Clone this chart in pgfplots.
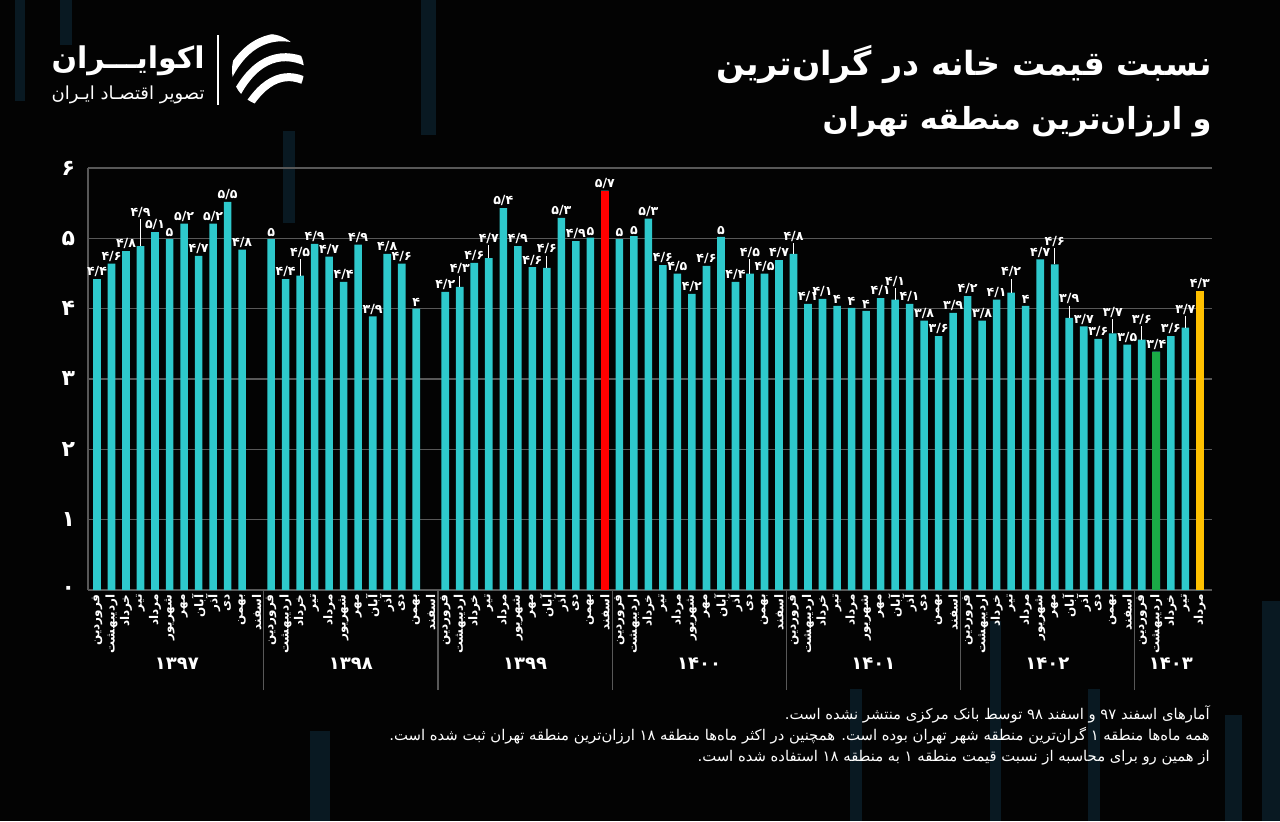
\documentclass[border=0pt]{standalone}
\usepackage{fontspec}
\usepackage{graphicx}
\usepackage{pgfplots}
\usepackage{pgfplotstable}
\pgfplotsset{compat=1.18}
\TeXXeTstate=1
\newfontfamily\fa[Script=Arabic]{DejaVu Sans}
\newfontfamily\fab[Script=Arabic]{DejaVu Sans Bold}
\definecolor{barc}{RGB}{46,201,204}
\definecolor{gridc}{RGB}{88,88,88}
\definecolor{bgc}{RGB}{3,3,3}
\definecolor{stripe}{RGB}{9,25,34}
\definecolor{redb}{RGB}{255,0,0}
\definecolor{greenb}{RGB}{26,170,70}
\definecolor{orangeb}{RGB}{255,192,0}
\newcommand\monthname[1]{\ifcase#1 فروردین\or اردیبهشت\or خرداد\or تیر\or مرداد\or شهریور\or مهر\or آبان\or آذر\or دی\or بهمن\or اسفند\fi}

\pgfplotstableread{
x v off lab
0 4.42 0 ۴/۴
1 4.64 0 ۴/۶
2 4.82 0 ۴/۸
3 4.89 0.38 ۴/۹
4 5.09 0 ۵/۱
5 4.99 0 ۵
6 5.21 0 ۵/۲
7 4.75 0 ۴/۷
8 5.21 0 ۵/۲
9 5.52 0 ۵/۵
10 4.84 0 ۴/۸
12 4.99 0 ۵
13 4.42 0 ۴/۴
14 4.47 0.23 ۴/۵
15 4.92 0 ۴/۹
16 4.74 0 ۴/۷
17 4.38 0 ۴/۴
18 4.91 0 ۴/۹
19 3.89 0 ۳/۹
20 4.78 0 ۴/۸
21 4.64 0 ۴/۶
22 4.00 0 ۴
24 4.24 0 ۴/۲
25 4.31 0.16 ۴/۳
26 4.65 0 ۴/۶
27 4.72 0.18 ۴/۷
28 5.43 0 ۵/۴
29 4.89 0 ۴/۹
30 4.59 0 ۴/۶
31 4.58 0.17 ۴/۶
32 5.29 0 ۵/۳
33 4.96 0 ۴/۹
34 5.01 0 ۵
35 5.68 0 ۵/۷
36 4.99 0 ۵
37 5.03 0 ۵
38 5.28 0 ۵/۳
39 4.62 0 ۴/۶
40 4.50 0 ۴/۵
41 4.21 0 ۴/۲
42 4.61 0 ۴/۶
43 5.02 0 ۵
44 4.38 0 ۴/۴
45 4.50 0.2 ۴/۵
46 4.50 0 ۴/۵
47 4.69 0 ۴/۷
48 4.78 0.15 ۴/۸
49 4.07 0 ۴/۱
50 4.14 0 ۴/۱
51 4.04 0 ۴
52 4.01 0 ۴
53 3.97 0 ۴
54 4.15 0 ۴/۱
55 4.13 0.16 ۴/۱
56 4.07 0 ۴/۱
57 3.83 0 ۳/۸
58 3.61 0 ۳/۶
59 3.94 0 ۳/۹
60 4.18 0 ۴/۲
61 3.83 0 ۳/۸
62 4.13 0 ۴/۱
63 4.23 0.19 ۴/۲
64 4.04 0 ۴
65 4.70 0 ۴/۷
66 4.63 0.23 ۴/۶
67 3.87 0.17 ۳/۹
68 3.75 0 ۳/۷
69 3.57 0 ۳/۶
70 3.65 0.2 ۳/۷
71 3.49 0 ۳/۵
72 3.56 0.19 ۳/۶
73 3.39 0 ۳/۴
74 3.61 0 ۳/۶
75 3.73 0.16 ۳/۷
76 4.25 0 ۴/۳
}\ratios

\begin{document}
\begin{tikzpicture}
\fill[bgc] (0,0) rectangle (640pt,410.5pt);
\path[use as bounding box] (0,0) rectangle (640pt,410.5pt);
% decorative background stripes
\fill[stripe] (7.5pt,360pt) rectangle (12.5pt,410.5pt);
\fill[stripe] (30pt,388pt) rectangle (36pt,410.5pt);
\fill[stripe] (210.5pt,343pt) rectangle (218pt,410.5pt);
\fill[stripe] (141.5pt,299pt) rectangle (147.5pt,345pt);
\fill[stripe] (155pt,0pt) rectangle (165pt,45pt);
\fill[stripe] (425pt,0pt) rectangle (431pt,66pt);
\fill[stripe] (495pt,0pt) rectangle (500.5pt,100pt);
\fill[stripe] (544pt,0pt) rectangle (550pt,66pt);
\fill[stripe] (612.5pt,0pt) rectangle (621pt,53pt);
\fill[stripe] (631pt,0pt) rectangle (640pt,110pt);
% logo
\node[anchor=east, inner sep=0pt, text=white] at (102.5pt,380pt) {\resizebox{76.5pt}{!}{\fab\beginR اکوایـــران\endR}};
\node[anchor=east, inner sep=0pt, text=white] at (102.5pt,363pt) {\resizebox{76.5pt}{!}{\fa\beginR تصویر اقتصـاد ایـران\endR}};
\draw[white, line width=0.6pt] (109pt,358pt) -- (109pt,393pt);
\begin{scope}
\clip (134pt,375.5pt) circle (18pt);
\draw[white, line width=4pt] (114pt,372pt) .. controls (124pt,392pt) and (140pt,396pt) .. (156pt,388pt);
\draw[white, line width=4pt] (118pt,363pt) .. controls (128pt,382pt) and (142pt,386pt) .. (156pt,378pt);
\draw[white, line width=4pt] (122pt,354pt) .. controls (132pt,372pt) and (144pt,376pt) .. (156pt,368pt);
\end{scope}
% title
\node[anchor=east, inner sep=0pt, text=white] at (606pt,378.5pt) {\resizebox{247.5pt}{!}{\fab\beginR نسبت قیمت خانه در گران‌ترین\endR}};
\node[anchor=east, inner sep=0pt, text=white] at (606pt,349.5pt) {\resizebox{194.5pt}{!}{\fab\beginR و ارزان‌ترین منطقه تهران\endR}};
% footnotes
\node[anchor=east, inner sep=0pt, text=white, font=\fa\fontsize{7.4}{8}\selectfont] at (605pt,53.5pt) {\beginR آمارهای اسفند ۹۷ و اسفند ۹۸ توسط بانک مرکزی منتشر نشده است.\endR};
\node[anchor=east, inner sep=0pt, text=white, font=\fa\fontsize{7.4}{8}\selectfont] at (605pt,42.5pt) {\beginR همه ماه‌ها منطقه ۱ گران‌ترین منطقه شهر تهران بوده است. همچنین در اکثر ماه‌ها منطقه ۱۸ ارزان‌ترین منطقه تهران ثبت شده است.\endR};
\node[anchor=east, inner sep=0pt, text=white, font=\fa\fontsize{7.4}{8}\selectfont] at (605pt,31.5pt) {\beginR از همین رو برای محاسبه از نسبت قیمت منطقه ۱ به منطقه ۱۸ استفاده شده است.\endR};

\begin{axis}[
  at={(44pt,115.5pt)}, anchor=south west,
  scale only axis, width=562pt, height=211pt,
  xmin=-0.62, xmax=76.84, ymin=0, ymax=6,
  axis x line*=bottom, axis y line*=left,
  axis line style={draw=gridc, line width=0.6pt},
  ytick={0,1,2,3,4,5,6},
  yticklabels={۰,۱,۲,۳,۴,۵,۶},
  ymajorgrids, grid style={draw=gridc, line width=0.6pt},
  major tick length=0pt,
  y tick label style={font=\fab\fontsize{11}{12}\selectfont, text=white, xshift=-3pt},
  xtick={0,...,76},
  xticklabel={\pgfmathtruncatemacro\mnum{mod(\ticknum,12)}\beginR\monthname{\mnum}\endR},
  x tick label style={font=\fab\fontsize{6}{6}\selectfont, text=white, rotate=90, anchor=east, inner sep=2pt},
  extra x ticks={11.5,23.5,35.5,47.5,59.5,71.5},
  extra x tick style={xticklabel={}, major tick length=50pt, tick align=outside, tick style={draw=gridc, line width=0.6pt}},
  clip=false,
]
\addplot[ybar, bar width=3.8pt, bar shift=0pt, fill=barc, draw=none,
  error bars/.cd, y dir=plus, y explicit, error mark=none,
  error bar style={white, line width=0.5pt}]
  table[x=x, y=v, y error=off] {\ratios};
\addplot[ybar, bar width=3.8pt, bar shift=0pt, fill=redb, draw=none] coordinates {(35,5.68)};
\addplot[ybar, bar width=3.8pt, bar shift=0pt, fill=greenb, draw=none] coordinates {(73,3.39)};
\addplot[ybar, bar width=3.8pt, bar shift=0pt, fill=orangeb, draw=none] coordinates {(76,4.25)};
\addplot[draw=none, mark=none, nodes near coords, point meta=explicit symbolic,
  every node near coord/.append style={font=\fab\fontsize{6.3}{7}\selectfont, text=white, anchor=south, inner xsep=0pt, inner ysep=0.8pt}]
  table[x=x, y expr=\thisrow{v}+\thisrow{off}, meta=lab] {\ratios};
\node[font=\fab\fontsize{9}{10}\selectfont, text=white, yshift=-37pt] at (axis cs:5.5,0) {۱۳۹۷};
\node[font=\fab\fontsize{9}{10}\selectfont, text=white, yshift=-37pt] at (axis cs:17.5,0) {۱۳۹۸};
\node[font=\fab\fontsize{9}{10}\selectfont, text=white, yshift=-37pt] at (axis cs:29.5,0) {۱۳۹۹};
\node[font=\fab\fontsize{9}{10}\selectfont, text=white, yshift=-37pt] at (axis cs:41.5,0) {۱۴۰۰};
\node[font=\fab\fontsize{9}{10}\selectfont, text=white, yshift=-37pt] at (axis cs:53.5,0) {۱۴۰۱};
\node[font=\fab\fontsize{9}{10}\selectfont, text=white, yshift=-37pt] at (axis cs:65.5,0) {۱۴۰۲};
\node[font=\fab\fontsize{9}{10}\selectfont, text=white, yshift=-37pt] at (axis cs:74,0) {۱۴۰۳};
\end{axis}
\end{tikzpicture}
\end{document}
